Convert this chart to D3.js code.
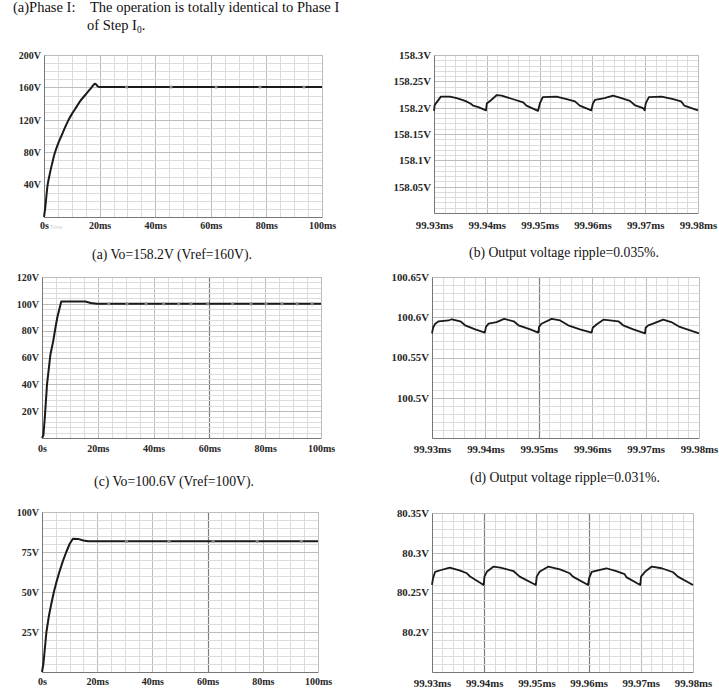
<!DOCTYPE html>
<html>
<head>
<meta charset="utf-8">
<script src="https://cdn.jsdelivr.net/npm/d3@7"></script>
<style>
body { margin: 0; background: #fff; }
svg { display: block; }
.tick text { font-family: "Liberation Serif", serif; font-weight: bold; font-size: 10px; fill: #262626; }
.rip .tick text { font-size: 10.8px; }
.cap { font-family: "Liberation Serif", serif; font-size: 13.7px; fill: #111; }
.head { font-size: 14.5px; }
</style>
</head>
<body>
<div id="chart"></div>
<script>
// ---- data ----
// step responses: [time ms, volts]
var stepA = [[0,0],[0.5,13],[1.2,37],[2,52],[3,67],[3.8,78],[5,90],[6.25,100],[7.5,110],[8.7,119],[10,127],
    [11.7,136],[13,143],[14.7,150],[16,155.5],[17,159.5],[17.8,163],[18.3,164.5],[18.8,163.5],[19.3,161.5],[20,160.6],[100,160.5]];
var markA = [[29.7,160.5],[45.7,160.5],[61.9,160.5],[77.7,160.5],[93.5,160.5]];

var stepC = [[0,0],[0.5,2],[1,15],[1.8,40],[3,62],[4,72],[4.8,82],[5.5,90],[6.9,101.7],[15.5,101.7],
    [17.5,100.6],[19.7,100],[100,100]];
var markC = [[23.9,100],[30.5,100],[37.3,100],[43.6,100],[49,100],[53.4,100],[59.4,100],[68.3,100],
    [74.9,100],[80.3,100],[86,100],[91.4,100],[96.8,100]];

var stepE = [[0,0],[0.5,5],[1,14],[1.6,25],[2.5,35],[3.3,42],[4.3,50],[5.2,56],[6.2,62],[7.5,69],[8.8,75],
    [10,80],[11.2,83.3],[13,83.2],[15,82.2],[16.7,81.7],[100,81.7]];
var markE = [[30.6,81.7],[46,81.7],[62,81.7],[78,81.7],[94,81.7]];

// ripple zooms: [time ms, volts]
var rippleB = [[99.93000,158.194],[99.93013,158.205],[99.93050,158.210],[99.93130,158.221],[99.93300,158.221],
    [99.93430,158.218],[99.93590,158.213],[99.93690,158.208],[99.93740,158.204],[99.93840,158.201],[99.93985,158.195],
    [99.94000,158.208],[99.94090,158.215],[99.94190,158.224],[99.94280,158.223],[99.94500,158.216],[99.94690,158.210],
    [99.94750,158.204],[99.94970,158.194],
    [99.95005,158.208],[99.95060,158.220],[99.95320,158.221],[99.95510,158.216],[99.95670,158.212],[99.95760,158.204],
    [99.95980,158.195],
    [99.96010,158.208],[99.96050,158.215],[99.96230,158.218],[99.96390,158.223],[99.96550,158.218],[99.96710,158.213],
    [99.96800,158.205],[99.96960,158.199],[99.96990,158.195],
    [99.97010,158.208],[99.97070,158.220],[99.97310,158.221],[99.97530,158.216],[99.97680,158.212],[99.97740,158.204],
    [99.98000,158.195]];

var rippleD = [[99.93000,100.580],[99.93020,100.587],[99.93060,100.592],[99.93125,100.595],[99.93310,100.596],
    [99.93370,100.5975],[99.93530,100.595],[99.93620,100.590],[99.93810,100.585],[99.93990,100.581],
    [99.94010,100.588],[99.94060,100.592],[99.94210,100.594],[99.94350,100.598],[99.94530,100.595],[99.94620,100.590],
    [99.94840,100.585],[99.94990,100.581],
    [99.95005,100.588],[99.95050,100.592],[99.95240,100.598],[99.95400,100.596],[99.95550,100.590],[99.95770,100.585],
    [99.95990,100.581],
    [99.96010,100.587],[99.96080,100.591],[99.96210,100.597],[99.96490,100.595],[99.96580,100.590],[99.96770,100.585],
    [99.96990,100.580],
    [99.97000,100.587],[99.97050,100.590],[99.97140,100.592],[99.97330,100.597],[99.97480,100.594],[99.97640,100.588],
    [99.98000,100.580]];

var rippleF = [[99.93000,80.2595],[99.93020,80.268],[99.93060,80.276],[99.93160,80.278],[99.93340,80.2814],
    [99.93540,80.2776],[99.93670,80.2742],[99.93730,80.270],[99.93990,80.2595],
    [99.94005,80.270],[99.94050,80.276],[99.94180,80.2826],[99.94310,80.2814],[99.94560,80.277],[99.94680,80.270],
    [99.94990,80.2595],
    [99.95006,80.270],[99.95060,80.276],[99.95230,80.2826],[99.95450,80.279],[99.95640,80.2742],[99.95700,80.270],
    [99.95990,80.2595],
    [99.96010,80.268],[99.96060,80.276],[99.96340,80.2805],[99.96530,80.277],[99.96690,80.273],[99.96730,80.269],
    [99.96990,80.2595],
    [99.97005,80.270],[99.97080,80.276],[99.97210,80.2826],[99.97400,80.2805],[99.97620,80.2755],[99.97710,80.270],
    [99.98000,80.2595]];

// axis ticks and labels
var stepTicks = [0, 20, 40, 60, 80, 100];
var stepTickLabels = ["0s", "20ms", "40ms", "60ms", "80ms", "100ms"];
var rippleTicks = [99.93, 99.94, 99.95, 99.96, 99.97, 99.98];
var rippleTickLabels = ["99.93ms", "99.94ms", "99.95ms", "99.96ms", "99.97ms", "99.98ms"];

var yTicksA = [40, 80, 120, 160, 200], yLabelsA = ["40V", "80V", "120V", "160V", "200V"];
var yTicksB = [158.05, 158.1, 158.15, 158.2, 158.25, 158.3], yLabelsB = ["158.05V", "158.1V", "158.15V", "158.2V", "158.25V", "158.3V"];
var yTicksC = [20, 40, 60, 80, 100, 120], yLabelsC = ["20V", "40V", "60V", "80V", "100V", "120V"];
var yTicksD = [100.5, 100.55, 100.6, 100.65], yLabelsD = ["100.5V", "100.55V", "100.6V", "100.65V"];
var yTicksE = [25, 50, 75, 100], yLabelsE = ["25V", "50V", "75V", "100V"];
var yTicksF = [80.2, 80.25, 80.3, 80.35], yLabelsF = ["80.2V", "80.25V", "80.3V", "80.35V"];

var captions = [
    {text: "(a) Vo=158.2V (Vref=160V).", x: 172, y: 259},
    {text: "(b) Output voltage ripple=0.035%.", x: 564, y: 257},
    {text: "(c) Vo=100.6V (Vref=100V).", x: 174, y: 486},
    {text: "(d) Output voltage ripple=0.031%.", x: 565, y: 482}
];

// ---- layout of the six panels ----
var panels = [
    {data: stepA, marks: markA, xDomain: [0, 100], yDomain: [0, 200], xTicks: stepTicks, xLabels: stepTickLabels,
     yTicks: yTicksA, yLabels: yLabelsA, xMinor: 5, yMinor: 10, dark: [], smooth: true,
     left: 44, right: 322, top: 55, bottom: 217, xPad: 5},
    {data: rippleB, marks: [], xDomain: [99.93, 99.98], yDomain: [158.0, 158.3], xTicks: rippleTicks, xLabels: rippleTickLabels,
     yTicks: yTicksB, yLabels: yLabelsB, xMinor: 0.002, yMinor: 0.01, dark: [], rip: true,
     left: 434, right: 698, top: 55, bottom: 213, xPad: 8},
    {data: stepC, marks: markC, xDomain: [0, 100], yDomain: [0, 120], xTicks: stepTicks, xLabels: stepTickLabels,
     yTicks: yTicksC, yLabels: yLabelsC, xMinor: 5, yMinor: 4, dark: [60],
     left: 42, right: 321, top: 277, bottom: 438, xPad: 7},
    {data: rippleD, marks: [], xDomain: [99.93, 99.98], yDomain: [100.45, 100.65], xTicks: rippleTicks, xLabels: rippleTickLabels,
     yTicks: yTicksD, yLabels: yLabelsD, xMinor: 0.002, yMinor: 0.01, dark: [99.95], rip: true,
     left: 432, right: 699, top: 277, bottom: 438, xPad: 7},
    {data: stepE, marks: markE, xDomain: [0, 100], yDomain: [0, 100], xTicks: stepTicks, xLabels: stepTickLabels,
     yTicks: yTicksE, yLabels: yLabelsE, xMinor: 5, yMinor: 5, dark: [60],
     left: 42, right: 318, top: 512, bottom: 672, xPad: 6},
    {data: rippleF, marks: [], xDomain: [99.93, 99.98], yDomain: [80.15, 80.35], xTicks: rippleTicks, xLabels: rippleTickLabels,
     yTicks: yTicksF, yLabels: yLabelsF, xMinor: 0.002, yMinor: 0.01, dark: [99.94, 99.96], rip: true,
     left: 432, right: 693, top: 513, bottom: 672, xPad: 7}
];

var svg = d3.select("#chart").append("svg")
    .attr("width", 719)
    .attr("height", 700);

// heading text above the figure (tab after "Phase I:")
svg.append("text").attr("class", "cap head").attr("x", 13).attr("y", 12)
    .text("(a)Phase I:");
svg.append("text").attr("class", "cap head").attr("x", 90).attr("y", 12)
    .text("The operation is totally identical to Phase I");
var head2 = svg.append("text").attr("class", "cap head").attr("x", 87).attr("y", 30);
head2.append("tspan").text("of Step I");
head2.append("tspan").text("0").attr("font-size", "9.5px").attr("dy", 3);
head2.append("tspan").text(".").attr("dy", -3);

function steps(lo, hi, step) {
    var n = Math.round((hi - lo) / step);
    return d3.range(n + 1).map(function(i) { return lo + i * step; });
}

function near(list, v, tol) {
    return list.some(function(d) { return Math.abs(d - v) < tol; });
}

function drawPanel(p) {
    var x = d3.scaleLinear().domain(p.xDomain).range([p.left, p.right]);
    var y = d3.scaleLinear().domain(p.yDomain).range([p.bottom, p.top]);
    var g = svg.append("g").attr("class", p.rip ? "rip" : "stp");
    var xtol = p.xMinor / 10, ytol = p.yMinor / 10;

    // grid: minor lines, labelled ticks a little darker
    steps(p.xDomain[0], p.xDomain[1], p.xMinor).forEach(function(v) {
        var col = near(p.dark, v, xtol) ? "#7e7e7e" : (near(p.xTicks, v, xtol) ? "#bdbdbd" : "#dcdcdc");
        g.append("line")
            .attr("x1", Math.round(x(v)) + 0.5).attr("x2", Math.round(x(v)) + 0.5)
            .attr("y1", p.top).attr("y2", p.bottom)
            .attr("stroke", col).attr("stroke-width", near(p.dark, v, xtol) ? 1.2 : 1);
    });
    steps(p.yDomain[0], p.yDomain[1], p.yMinor).forEach(function(v) {
        var col = near(p.yTicks, v, ytol) ? "#bdbdbd" : "#dcdcdc";
        g.append("line")
            .attr("x1", p.left).attr("x2", p.right)
            .attr("y1", Math.round(y(v)) + 0.5).attr("y2", Math.round(y(v)) + 0.5)
            .attr("stroke", col);
    });

    // axes
    var ya = g.append("g")
        .attr("transform", "translate(" + p.left + ",0)")
        .call(d3.axisLeft(y).tickValues(p.yTicks)
            .tickFormat(function(d, i) { return p.yLabels[i]; })
            .tickSize(0).tickPadding(3));
    var xa = g.append("g")
        .attr("transform", "translate(0," + p.bottom + ")")
        .call(d3.axisBottom(x).tickValues(p.xTicks)
            .tickFormat(function(d, i) { return p.xLabels[i]; })
            .tickSize(0).tickPadding(p.xPad));
    ya.select(".domain").attr("stroke", "#777");
    xa.select(".domain").attr("stroke", "#777");
    ya.selectAll("text").attr("font-family", null).attr("font-size", null);
    xa.selectAll("text").attr("font-family", null).attr("font-size", null);

    // waveform
    var line = d3.line()
        .x(function(d) { return x(d[0]); })
        .y(function(d) { return y(d[1]); });
    if (p.smooth) line.curve(d3.curveMonotoneX);
    g.append("path")
        .datum(p.data)
        .attr("d", line)
        .attr("fill", "none")
        .attr("stroke", "#1a1a1a")
        .attr("stroke-width", p.rip ? 1.8 : 2)
        .attr("stroke-linejoin", "round");

    g.selectAll("circle.mk")
        .data(p.marks)
        .enter()
        .append("circle")
        .attr("class", "mk")
        .attr("cx", function(d) { return x(d[0]); })
        .attr("cy", function(d) { return y(d[1]); })
        .attr("r", 1.6)
        .attr("fill", "#8a8a8a");
}

panels.forEach(drawPanel);

// faint time-unit stamp next to the first "0s"
svg.append("text")
    .attr("x", 50).attr("y", 229)
    .attr("font-family", "DejaVu Sans, sans-serif")
    .attr("font-size", "5px")
    .attr("fill", "#c8c8c8")
    .text("Time");

svg.selectAll("text.fig")
    .data(captions)
    .enter()
    .append("text")
    .attr("class", "cap")
    .attr("x", function(d) { return d.x; })
    .attr("y", function(d) { return d.y; })
    .attr("text-anchor", "middle")
    .text(function(d) { return d.text; });
</script>
</body>
</html>
